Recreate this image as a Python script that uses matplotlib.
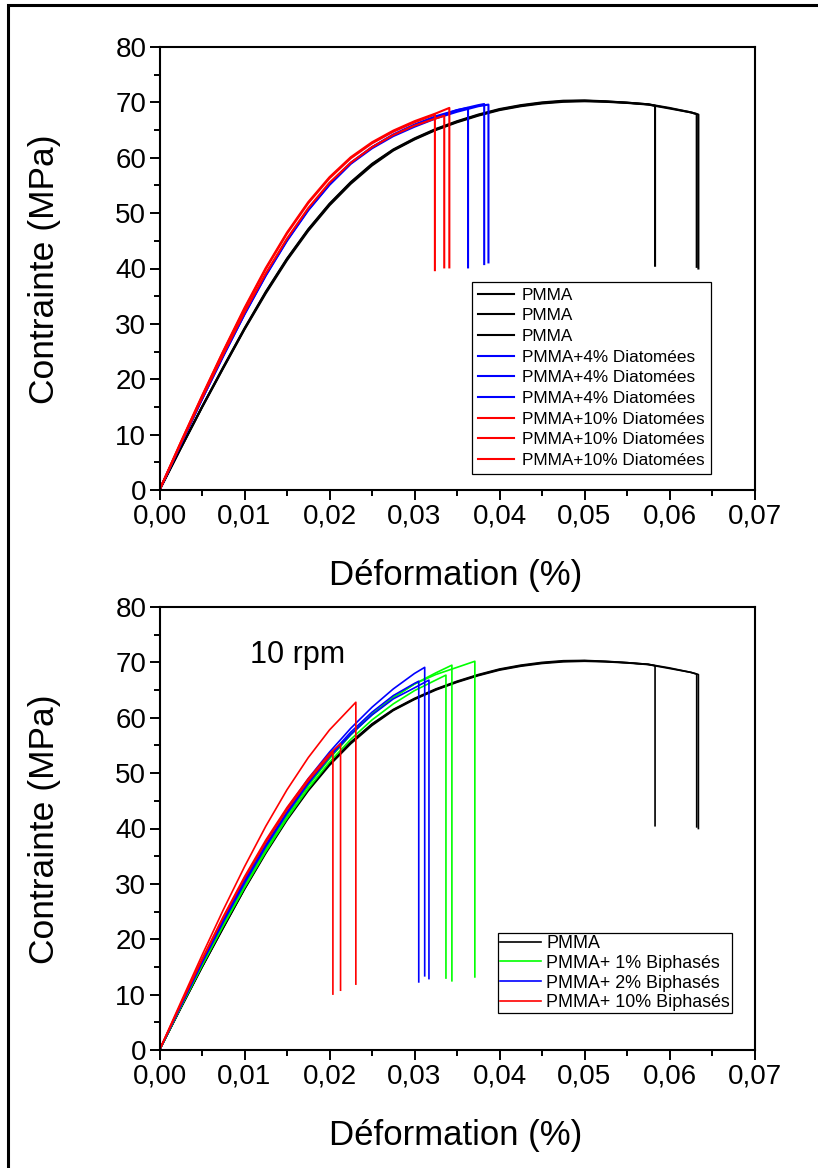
import matplotlib
matplotlib.use("Agg")
import matplotlib.pyplot as plt
from matplotlib.ticker import MultipleLocator, FuncFormatter
from matplotlib.patches import Rectangle

plt.rcParams['font.family'] = ['Liberation Sans', 'DejaVu Sans']

# common strain grid (read every 0.0025)
strain_grid = [0, 0.0025, 0.005, 0.0075, 0.01, 0.0125, 0.015, 0.0175, 0.02, 0.0225,
               0.025, 0.0275, 0.03, 0.0325, 0.035, 0.0375, 0.04, 0.0425, 0.045, 0.0475,
               0.05, 0.0525, 0.055, 0.0575, 0.06, 0.0625]

# PMMA (black) -- stress on grid, then (break strain, stress at break, stress after drop)
pmma_a = [0, 7.6, 15.0, 22.2, 29.2, 35.8, 41.8, 47.1, 51.7, 55.6, 58.9, 61.5, 63.5,
          65.2, 66.6, 67.8, 68.8, 69.5, 70.0, 70.3, 70.35, 70.2, 69.95, 69.65]
pmma_a_break = (0.0583, 69.4, 40.5)
pmma_b = [0, 7.5, 14.9, 22.0, 29.0, 35.5, 41.5, 46.8, 51.4, 55.3, 58.6, 61.3, 63.3,
          65.0, 66.4, 67.6, 68.6, 69.3, 69.8, 70.1, 70.2, 70.1, 69.9, 69.6, 68.9, 68.2]
pmma_b_break = (0.0632, 67.9, 40.3)
pmma_c = [0, 7.6, 15.0, 22.1, 29.1, 35.7, 41.7, 47.0, 51.6, 55.5, 58.8, 61.4, 63.4,
          65.1, 66.5, 67.7, 68.7, 69.4, 69.9, 70.2, 70.3, 70.15, 69.95, 69.65, 69.0, 68.2]
pmma_c_break = (0.0634, 67.8, 40.0)

# PMMA + 4% Diatomées (blue)
dia4_a = [0, 8.3, 16.4, 24.2, 31.7, 38.7, 45.0, 50.5, 55.1, 58.9, 61.7, 63.9, 65.6,
          67.1, 68.3, 69.3]
dia4_a_break = (0.0387, 69.6, 41.1)
dia4_b = [0, 8.3, 16.5, 24.3, 31.9, 38.9, 45.2, 50.7, 55.3, 59.1, 61.9, 64.1, 65.8,
          67.3, 68.6, 69.5]
dia4_b_break = (0.0382, 69.7, 40.8)
dia4_c = [0, 8.3, 16.4, 24.2, 31.8, 38.8, 45.1, 50.6, 55.2, 59.0, 61.9, 64.2, 66.0,
          67.5, 68.6]
dia4_c_break = (0.0363, 69.0, 40.2)

# PMMA + 10% Diatomées (red)
dia10_a = [0, 8.6, 17.0, 25.1, 32.9, 40.1, 46.5, 52.0, 56.5, 60.1, 62.8, 64.9, 66.6, 68.0]
dia10_a_break = (0.0341, 69.0, 40.2)
dia10_b = [0, 8.6, 16.9, 25.0, 32.7, 39.9, 46.3, 51.8, 56.3, 59.9, 62.6, 64.7, 66.4]
dia10_b_break = (0.0324, 67.8, 39.7)
dia10_c = [0, 8.4, 16.6, 24.5, 32.1, 39.1, 45.4, 50.9, 55.5, 59.1, 61.9, 64.1, 65.8, 67.1]
dia10_c_break = (0.0335, 67.6, 40.2)

# PMMA + 1% Biphasés (green)
bi1_a = [0, 7.7, 15.2, 22.4, 29.3, 35.8, 41.8, 47.2, 52.0, 56.1, 59.6, 62.5, 64.9, 66.8]
bi1_a_break = (0.0337, 67.7, 13.0)
bi1_b = [0, 7.8, 15.4, 22.7, 29.7, 36.3, 42.4, 47.9, 52.8, 57.0, 60.6, 63.6, 66.1, 68.1]
bi1_b_break = (0.0344, 69.5, 12.5)
bi1_c = [0, 7.8, 15.4, 22.7, 29.7, 36.3, 42.3, 47.7, 52.6, 56.9, 60.6, 63.7, 66.1,
         67.8, 69.1]
bi1_c_break = (0.0371, 70.2, 13.2)

# PMMA + 2% Biphasés (blue)
bi2_a = [0, 8.0, 15.8, 23.3, 30.4, 37.0, 43.0, 48.4, 53.2, 57.4, 61.0, 64.0, 66.2]
bi2_a_break = (0.0305, 66.6, 12.3)
bi2_b = [0, 8.1, 16.0, 23.6, 30.8, 37.5, 43.6, 49.0, 53.8, 58.1, 61.9, 65.2, 68.0]
bi2_b_break = (0.0312, 69.1, 13.4)
bi2_c = [0, 7.9, 15.7, 23.1, 30.1, 36.7, 42.7, 48.1, 52.9, 57.0, 60.5, 63.4, 65.4]
bi2_c_break = (0.0317, 66.8, 12.9)

# PMMA + 10% Biphasés (red)
bi10_a = [0, 8.6, 17.1, 25.3, 33.1, 40.4, 47.0, 52.8, 57.8]
bi10_a_break = (0.0231, 62.8, 11.9)
bi10_b = [0, 8.3, 16.4, 24.1, 31.3, 37.9, 43.8, 49.0, 53.5]
bi10_b_break = (0.0213, 55.3, 10.8)
bi10_c = [0, 8.3, 16.3, 23.9, 31.0, 37.5, 43.4, 48.6, 53.1]
bi10_c_break = (0.0204, 53.8, 10.1)


def curve(stress, brk):
    x = strain_grid[:len(stress)] + [brk[0], brk[0]]
    y = stress + [brk[1], brk[2]]
    return x, y


def style_axes(ax):
    ax.set_xlim(0, 0.07)
    ax.set_ylim(0, 80)
    ax.xaxis.set_major_locator(MultipleLocator(0.01))
    ax.xaxis.set_minor_locator(MultipleLocator(0.005))
    ax.yaxis.set_major_locator(MultipleLocator(10))
    ax.yaxis.set_minor_locator(MultipleLocator(5))
    ax.xaxis.set_major_formatter(FuncFormatter(lambda v, p: f'{v:.2f}'.replace('.', ',')))
    ax.yaxis.set_major_formatter(FuncFormatter(lambda v, p: f'{v:.0f}'))
    ax.tick_params(which='major', direction='out', length=7.5, width=1.4,
                   labelsize=20, pad=2, top=False, right=False)
    ax.tick_params(which='minor', direction='out', length=4.5, width=1.4,
                   top=False, right=False)
    for s in ax.spines.values():
        s.set_linewidth(1.5)


W, H = 818, 1168
fig = plt.figure(figsize=(W / 100, H / 100), dpi=100)

ax1 = fig.add_axes([159.5 / W, 1 - 490 / H, 595 / W, 443 / H])
ax2 = fig.add_axes([159.5 / W, 1 - 1050 / H, 595 / W, 443 / H])

top_series = [
    (pmma_a, pmma_a_break, 'black', 'PMMA'),
    (pmma_b, pmma_b_break, 'black', 'PMMA'),
    (pmma_c, pmma_c_break, 'black', 'PMMA'),
    (dia4_a, dia4_a_break, '#0000ff', 'PMMA+4% Diatomées'),
    (dia4_b, dia4_b_break, '#0000ff', 'PMMA+4% Diatomées'),
    (dia4_c, dia4_c_break, '#0000ff', 'PMMA+4% Diatomées'),
    (dia10_a, dia10_a_break, '#ff0000', 'PMMA+10% Diatomées'),
    (dia10_b, dia10_b_break, '#ff0000', 'PMMA+10% Diatomées'),
    (dia10_c, dia10_c_break, '#ff0000', 'PMMA+10% Diatomées'),
]
for s, b, c, lab in top_series:
    x, y = curve(s, b)
    ax1.plot(x, y, color=c, lw=1.5, label=lab, solid_joinstyle='round')

bottom_series = [
    (pmma_a, pmma_a_break, 'black', 'PMMA'),
    (pmma_b, pmma_b_break, 'black', None),
    (pmma_c, pmma_c_break, 'black', None),
    (bi1_a, bi1_a_break, '#00ff00', 'PMMA+ 1% Biphasés'),
    (bi1_b, bi1_b_break, '#00ff00', None),
    (bi1_c, bi1_c_break, '#00ff00', None),
    (bi2_a, bi2_a_break, '#0000ff', 'PMMA+ 2% Biphasés'),
    (bi2_b, bi2_b_break, '#0000ff', None),
    (bi2_c, bi2_c_break, '#0000ff', None),
    (bi10_a, bi10_a_break, '#ff0000', 'PMMA+ 10% Biphasés'),
    (bi10_b, bi10_b_break, '#ff0000', None),
    (bi10_c, bi10_c_break, '#ff0000', None),
]
for s, b, c, lab in bottom_series:
    x, y = curve(s, b)
    ax2.plot(x, y, color=c, lw=1.2, label=lab, solid_joinstyle='round')

for ax in (ax1, ax2):
    style_axes(ax)

leg1 = ax1.legend(loc='upper left', bbox_to_anchor=(0.5247, 0.470), borderaxespad=0,
                  fontsize=12.3, frameon=True, fancybox=False, edgecolor='black',
                  framealpha=1, handlelength=2.15, handletextpad=0.45, labelspacing=0.33,
                  borderpad=0.35)
leg1.get_frame().set_linewidth(0.9)
leg2 = ax2.legend(loc='upper left', bbox_to_anchor=(0.569, 0.264), borderaxespad=0,
                  fontsize=12.9, frameon=True, fancybox=False, edgecolor='black',
                  framealpha=1, handlelength=2.3, handletextpad=0.3, labelspacing=0.16,
                  borderpad=0.1)
leg2.get_frame().set_linewidth(0.9)

ax2.text(0.0162, 71.4, '10 rpm', fontsize=22, ha='center', va='center')

# axis titles
fig.text(45 / W, 1 - 269 / H, 'Contrainte (MPa)', rotation=90, fontsize=25.5,
         ha='center', va='center')
fig.text(456 / W, 1 - 576 / H, 'Déformation (%)', fontsize=25, ha='center', va='center')
fig.text(45 / W, 1 - 829 / H, 'Contrainte (MPa)', rotation=90, fontsize=25.5,
         ha='center', va='center')
fig.text(456 / W, 1 - 1135 / H, 'Déformation (%)', fontsize=25, ha='center', va='center')

# outer frame
fig.add_artist(Rectangle((8 / W, -0.05), 1.0, 1 - 5 / H + 0.05, transform=fig.transFigure,
                         fill=False, edgecolor='black', linewidth=2.2, clip_on=False))

fig.savefig('out.png', dpi=100)
